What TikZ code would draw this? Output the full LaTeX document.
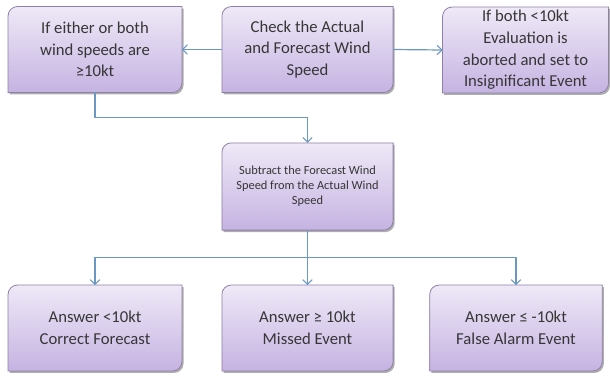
\documentclass[tikz,border=0pt]{standalone}
\usepackage{fontspec}
\setmainfont{Carlito}
\usetikzlibrary{arrows.meta,shadows,backgrounds}
\definecolor{boxtop}{HTML}{EFE9F7}
\definecolor{boxbot}{HTML}{C5B3E2}
\definecolor{boxedge}{HTML}{8F80A8}
\definecolor{linkblue}{HTML}{6A98C2}
\definecolor{textgray}{HTML}{363636}
\tikzset{
  stepbox/.style={inner sep=0pt, align=center, text=textgray,
    font=\fontsize{12.5}{16.2}\selectfont},
  smallbox/.style={stepbox, font=\fontsize{9.3}{11.3}\selectfont},
  boxframe/.style={draw=boxedge, line width=.6pt, top color=boxtop, bottom color=boxbot,
    drop shadow={shadow xshift=1.2pt, shadow yshift=-1.5pt, opacity=.45, fill=black!70}},
  link/.style={draw=linkblue, line width=.9pt, line join=round,
    -{Straight Barb[length=3.5pt,width=7pt,line width=.8pt]}}
}
\begin{document}
\begin{tikzpicture}[x=.75pt, y=-.75pt]
\useasboundingbox (0,0) rectangle (610,376);

% top row
\node[stepbox, minimum width=130pt, minimum height=64pt] (top1) at (95,49.5)
  {If either or both\\wind speeds are\\≥10kt};
\node[stepbox, minimum width=128pt, minimum height=64pt] (top2) at (307.5,49.5)
  {Check the Actual\\and Forecast Wind\\Speed};
\node[stepbox, minimum width=124pt, minimum height=64pt] (top3) at (525.5,50)
  {If both <10kt\\Evaluation is\\aborted and set to\\Insignificant Event};

% middle
\node[smallbox, minimum width=128pt, minimum height=65pt] (sub) at (307.5,186.5)
  {Subtract the Forecast Wind\\Speed from the Actual Wind\\Speed};

% bottom row
\node[stepbox, minimum width=130pt, minimum height=64pt] (bot1) at (95,328)
  {Answer <10kt\\Correct Forecast};
\node[stepbox, minimum width=128pt, minimum height=64pt] (bot2) at (307.5,328)
  {Answer ≥ 10kt\\Missed Event};
\node[stepbox, minimum width=129pt, minimum height=64pt] (bot3) at (516,328)
  {Answer ≤ -10kt\\False Alarm Event};

\begin{scope}[on background layer]
\foreach \n in {top1,top2,top3,sub,bot1,bot2,bot3}
{
    \path[boxframe] ([yshift=-7pt]\n.north west) arc[start angle=180, end angle=90, radius=7pt]
      -- (\n.north east) -- ([yshift=7pt]\n.south east)
      arc[start angle=0, end angle=-90, radius=7pt] -- (\n.south west) -- cycle;
}
\end{scope}

\draw[link] (top2.west)--(top1.east);
\draw[link] (top2.east)--(top3.west);
\draw[link] (top1.south)--++(0,25)-|(sub.north);
\draw[link] (sub.south)--(bot2.north);
\foreach \b in {bot1,bot3}
{
    \draw[link] (sub.south)--++(0,27)-|(\b.north);
}

\end{tikzpicture}
\end{document}
